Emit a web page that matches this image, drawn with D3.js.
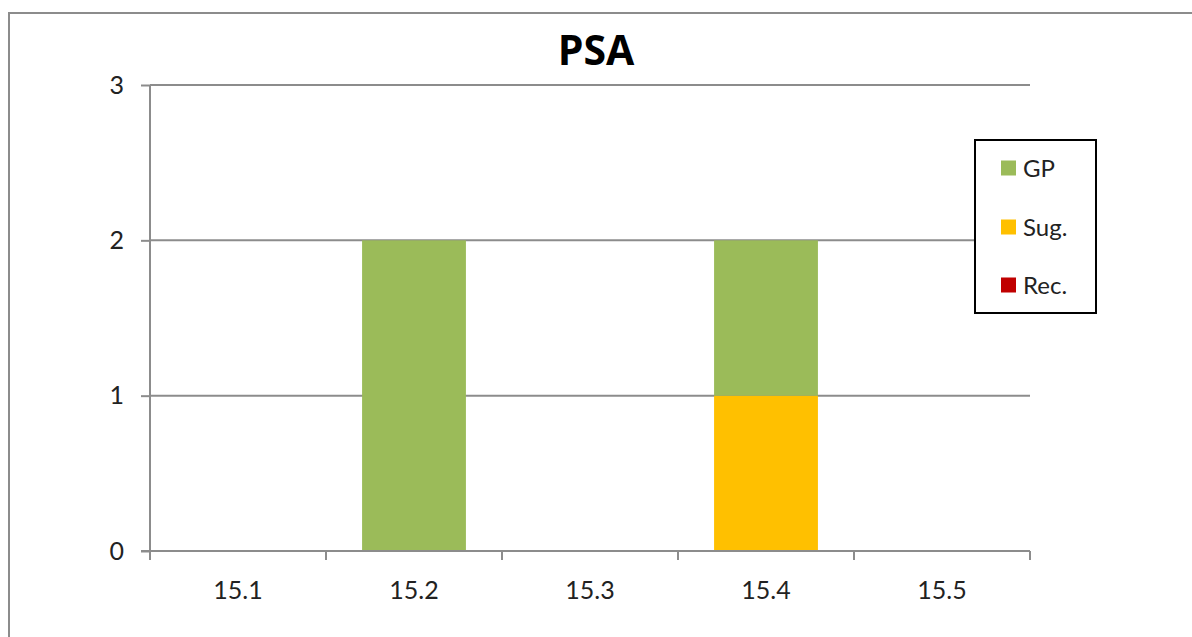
<!DOCTYPE html>
<html>
<head>
<meta charset="utf-8">
<script src="https://cdn.jsdelivr.net/npm/d3@7"></script>
<style>
  html, body { margin: 0; padding: 0; background: #fff; }
  svg { display: block; font-family: Lato, "Open Sans", sans-serif; }
</style>
</head>
<body>
<svg id="chart" width="1192" height="637"></svg>
<script>
// Categories along the x axis
const categories = ["15.1", "15.2", "15.3", "15.4", "15.5"];
// Series values (stacked bottom to top: Rec, Sug, GP)
const recValues = [0, 0, 0, 0, 0];
const sugValues = [0, 0, 0, 1, 0];
const gpValues  = [0, 2, 0, 1, 0];
// Y-axis ticks
const yTicks = [0, 1, 2, 3];
const seriesNames = ["Rec.", "Sug.", "GP"];
const seriesColors = { "GP": "#9BBB59", "Sug.": "#FFC000", "Rec.": "#C00000" };

const svg = d3.select("#chart");
const W = 1192, H = 637;
const plot = { left: 150, right: 1030, top: 85, bottom: 551 };

// outer chart frame (runs past the right and bottom edges)
svg.append("rect")
  .attr("x", 9).attr("y", 13)
  .attr("width", W + 20).attr("height", H + 20)
  .attr("fill", "#fff").attr("stroke", "#8c8c8c").attr("stroke-width", 2);

const x = d3.scaleBand().domain(categories)
  .range([plot.left, plot.right]).paddingInner(0.41).paddingOuter(0.205);
const xAxisScale = d3.scaleBand().domain(categories).range([plot.left, plot.right]);
const y = d3.scaleLinear().domain([0, 3]).range([plot.bottom, plot.top]);

// gridlines
svg.append("g").selectAll("line").data(yTicks.filter(d => d > 0)).join("line")
  .attr("x1", plot.left).attr("x2", plot.right)
  .attr("y1", d => y(d)).attr("y2", d => y(d))
  .attr("stroke", "#8c8c8c").attr("stroke-width", 2);

// stacked bars
const rows = categories.map((c, i) => ({ cat: c, "Rec.": recValues[i], "Sug.": sugValues[i], "GP": gpValues[i] }));
const stack = d3.stack().keys(seriesNames)(rows);
svg.append("g").selectAll("g").data(stack).join("g")
  .attr("fill", s => seriesColors[s.key])
  .selectAll("rect").data(s => s).join("rect")
  .attr("x", d => x(d.data.cat))
  .attr("width", x.bandwidth())
  .attr("y", d => y(d[1]))
  .attr("height", d => y(d[0]) - y(d[1]));

// y axis
const yAxis = svg.append("g").attr("transform", `translate(${plot.left},0)`)
  .call(d3.axisLeft(y).tickValues(yTicks).tickSize(9).tickPadding(17).tickFormat(d3.format("d")));
yAxis.attr("font-family", null).attr("font-size", null);
yAxis.select(".domain").attr("stroke", "#8c8c8c").attr("stroke-width", 2).attr("d", `M0,${plot.top}V${plot.bottom}`);
yAxis.selectAll(".tick line").attr("stroke", "#8c8c8c").attr("stroke-width", 2);
yAxis.selectAll("text").attr("font-size", 25).attr("fill", "#222");

// x axis: boundary ticks between categories
const xg = svg.append("g").attr("transform", `translate(0,${plot.bottom})`);
xg.append("line").attr("x1", plot.left - 9).attr("x2", plot.right)
  .attr("stroke", "#8c8c8c").attr("stroke-width", 2);
const boundaries = categories.map(c => xAxisScale(c)).concat([plot.right]);
xg.selectAll("line.tk").data(boundaries).join("line").attr("class", "tk")
  .attr("x1", d => d).attr("x2", d => d).attr("y1", 0).attr("y2", 9)
  .attr("stroke", "#8c8c8c").attr("stroke-width", 2);
xg.selectAll("text").data(categories).join("text")
  .attr("x", d => xAxisScale(d) + xAxisScale.bandwidth() / 2)
  .attr("y", 48).attr("text-anchor", "middle")
  .attr("font-size", 25).attr("fill", "#222").text(d => d);

// title
svg.append("text").attr("x", 596).attr("y", 65).attr("text-anchor", "middle")
  .attr("font-family", "'Open Sans', sans-serif")
  .attr("font-size", 41).attr("font-weight", "bold").attr("fill", "#000").text("PSA");

// legend
const lg = svg.append("g");
lg.append("rect").attr("x", 975).attr("y", 140).attr("width", 121).attr("height", 173)
  .attr("fill", "#fff").attr("stroke", "#000").attr("stroke-width", 2);
const legendItems = ["GP", "Sug.", "Rec."];
const legendY = [168, 227, 285];
legendItems.forEach((k, i) => {
  lg.append("rect").attr("x", 1001).attr("y", legendY[i] - 7.5).attr("width", 15).attr("height", 15)
    .attr("fill", seriesColors[k]);
  lg.append("text").attr("x", 1023).attr("y", legendY[i] + 8.5)
    .attr("font-size", 24).attr("fill", "#222").text(k);
});
</script>
</body>
</html>
